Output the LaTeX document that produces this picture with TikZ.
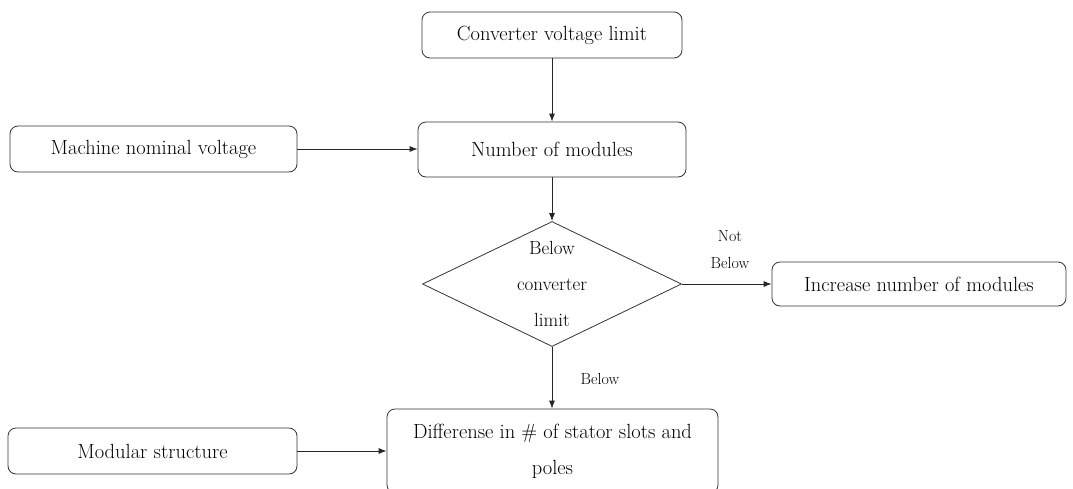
\documentclass[tikz,border=0pt]{standalone}
\usetikzlibrary{shapes.geometric,arrows.meta}
\begin{document}
\begin{tikzpicture}[x=1pt,y=-1pt,
  box/.style={draw=black!80, line width=0.8pt, rounded corners=8pt, inner sep=0pt,
    align=center, font=\fontsize{20.5}{36}\selectfont},
  decision/.style={draw=black!80, line width=0.8pt, diamond, shape aspect=2.07, inner sep=0pt,
    minimum width=259pt, minimum height=125pt, align=center,
    font=\fontsize{19}{36}\selectfont},
  flow/.style={draw=black!85, line width=0.8pt, -{Latex[length=8pt,width=6pt]}},
  tag/.style={inner sep=0pt, font=\fontsize{16}{27}\selectfont, align=center}]
\useasboundingbox (0,0) rectangle (1073,488);
\clip (0,0) rectangle (1073,488);

% processing steps
\node[box, minimum width=260pt, minimum height=46pt] (limit) at (552,35) {Converter voltage limit};
\node[box, minimum width=268pt, minimum height=55pt] (modules) at (552,149.5) {Number of modules};
\node[box, minimum width=287pt, minimum height=46pt] (nominal) at (153.5,149) {Machine nominal voltage};
\node[decision] (check) at (552,284) {Below\\converter\\limit};
\node[box, minimum width=294pt, minimum height=44pt] (increase) at (919,284) {Increase number of modules};
\node[box, minimum width=331pt, minimum height=84pt] (diff) at (552.5,451) {Differense in \# of stator slots and\\poles};
\node[box, minimum width=289pt, minimum height=46pt] (modular) at (152.5,451) {Modular structure};

% connectors
\draw[flow] (limit) -- (modules);
\draw[flow] (nominal.east) -- (modules.west |- nominal.east);
\draw[flow] (modules) -- (check);
\draw[flow] (check.east) -- (increase.west);
\draw[flow] (check.south) -- (diff.north -| check.south);
\draw[flow] (modular.east) -- (diff.west |- modular.east);

% branch labels
\node[tag] (notbelow) at (730,249.5) {Not\\Below};
\node[tag] (below) at (600,379) {Below};
\end{tikzpicture}
\end{document}
